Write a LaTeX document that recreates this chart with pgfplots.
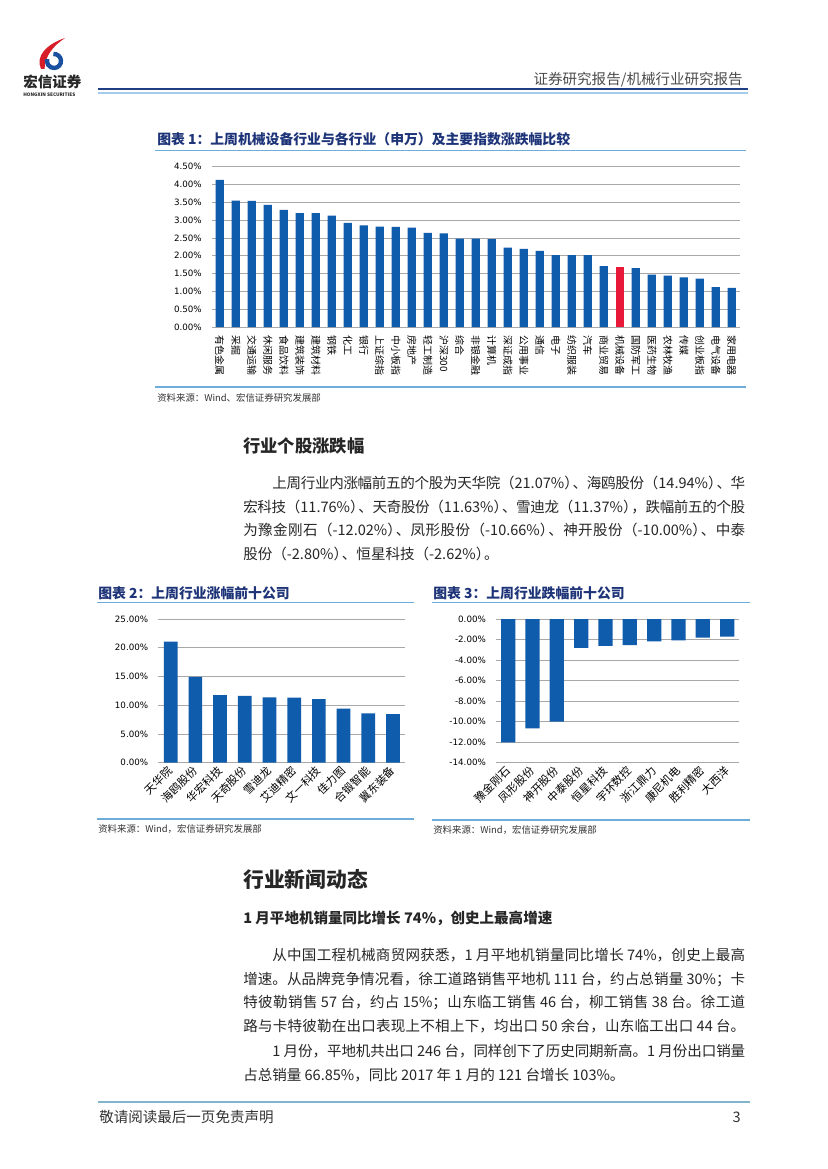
\documentclass[border=0pt]{standalone}
\usepackage{fontspec}
\setmainfont{Noto Sans CJK SC}
\newfontfamily\dv{DejaVu Sans}
\usepackage{pgfplots}
\pgfplotsset{compat=1.18}
\definecolor{barblue}{RGB}{16,92,172}
\definecolor{barred}{RGB}{232,24,56}
\definecolor{gridgray}{RGB}{168,168,168}
\definecolor{titlenavy}{RGB}{30,52,120}
\definecolor{tline}{RGB}{110,172,218}
\definecolor{headnavy}{RGB}{32,62,132}
\definecolor{headlight}{RGB}{165,205,235}
\definecolor{footline}{RGB}{130,180,205}
\definecolor{logored}{RGB}{215,30,40}
\definecolor{logoblue}{RGB}{25,80,160}
\newcommand\fs[1]{\fontsize{#1}{#1}\selectfont}
\newcommand\jl[1]{\parbox[b]{127.5mm}{\XeTeXlinebreaklocale "zh"\XeTeXlinebreakskip=0pt plus 3pt minus 1pt\XeTeXlinebreakpenalty=10000\parfillskip=0pt\relax\noindent #1}}
\newcommand\cp{\kern-0.42em}
\pgfplotsset{
  myaxis/.style={
    scale only axis, enlargelimits=false, clip=false,
    axis line style={draw=none},
    major tick length=0pt,
    ymajorgrids, grid style={gridgray, line width=0.6pt},
    /pgf/number format/assume math mode=true,
    yticklabel style={font=\dv\fs{6.3}, anchor=east, inner sep=0pt, xshift=-2.5mm},
    yticklabel={\pgfmathprintnumber[fixed,fixed zerofill,precision=2]{\tick}\%},
  }
}
\begin{document}
\begin{tikzpicture}[x=0.254mm,y=0.254mm]
\fill[white] (0,0) rectangle (827,-1169);
\path[use as bounding box] (0,0) rectangle (827,-1169);
% ---------- header ----------
\fill[logored] (41,-69) .. controls (35,-56) and (47,-44) .. (65,-38) .. controls (53,-46) and (45,-56) .. (44.5,-69) -- cycle;
\draw[logoblue, line width=1.1mm] (54,-61) ++(95:7) arc[start angle=95, end angle=-195, radius=7];
\node[anchor=base west, inner sep=0pt, font=\bfseries\fs{10.5}, text=black!85] at (23,-88) {宏信证券};
\node[anchor=base west, inner sep=0pt, font=\bfseries\fs{3.4}, text=black!85] at (23,-97) {HONGXIN SECURITIES};
\node[anchor=base east, inner sep=0pt, font=\fs{10.5}, text=black!70] at (743,-85) {证券研究报告/机械行业研究报告};
\draw[headnavy, line width=0.55mm] (98,-89) -- (748,-89);
\draw[headlight, line width=0.35mm] (98,-93) -- (748,-93);
% ---------- chart 1 ----------
\node[anchor=base west, inner sep=0pt, font=\bfseries\fs{10}, text=titlenavy] at (157,-145) {图表 1：上周机械设备行业与各行业（申万）及主要指数涨跌幅比较};
\draw[tline, line width=0.35mm] (155,-150.5) -- (746,-150.5);
\begin{axis}[myaxis,
  at={(53.80mm,-83.06mm)}, anchor=south west,
  width=134.1mm, height=40.72mm,
  xmin=-0.5, xmax=32.5, ymin=0, ymax=4.5,
  ytick={0,0.5,...,4.5},
  xtick={0,...,32},
  xticklabels={有色金属,采掘,交通运输,休闲服务,食品饮料,建筑装饰,建筑材料,钢铁,化工,银行,上证综指,中小板指,房地产,轻工制造,沪深300,综合,非银金融,计算机,深证成指,公用事业,通信,电子,纺织服装,汽车,商业贸易,机械设备,国防军工,医药生物,农林牧渔,传媒,创业板指,电气设备,家用电器},
  xticklabel style={font=\fs{7.2}, rotate=-90, anchor=west, inner sep=0pt},
  xticklabel shift=2mm,
]
\addplot[ybar, bar shift=0pt, bar width=2.1mm, fill=barblue, draw=none] coordinates {
(0,4.13) (1,3.55) (2,3.54) (3,3.43) (4,3.29) (5,3.20) (6,3.20) (7,3.13) (8,2.92) (9,2.85)
(10,2.82) (11,2.81) (12,2.79) (13,2.64) (14,2.63) (15,2.48) (16,2.48) (17,2.47) (18,2.23) (19,2.19)
(20,2.14) (21,2.02) (22,2.02) (23,2.02) (24,1.71) (26,1.65) (27,1.47) (28,1.44) (29,1.39)
(30,1.36) (31,1.12) (32,1.10)};
\addplot[ybar, bar shift=0pt, bar width=2.1mm, fill=barred, draw=none] coordinates {(25,1.68)};
\end{axis}
\draw[tline, line width=0.35mm] (155,-387) -- (746,-387);
\node[anchor=base west, inner sep=0pt, font=\fs{6.8}, text=black!80] at (157,-401.5) {资料来源：Wind、宏信证券研究发展部};
% ---------- text 1 ----------
\node[anchor=base west, inner sep=0pt, font=\bfseries\fs{12.5}, text=black!85] at (243,-452.4) {行业个股涨跌幅};
\begin{scope}[every node/.style={anchor=base west, inner sep=0pt, font=\fs{10.5}, text=black!85}]
\node at (243,-488.4) {\jl{\hspace*{21pt}上周行业内涨幅前五的个股为天华院（21.07\%）\cp、海鸥股份（14.94\%）\cp、华}};
\node at (243,-512.4) {\jl{宏科技（11.76\%）\cp、天奇股份（11.63\%）\cp、雪迪龙（11.37\%）\cp，跌幅前五的个股}};
\node at (243,-535.4) {\jl{为豫金刚石（-12.02\%）\cp、凤形股份（-10.66\%）\cp、神开股份（-10.00\%）\cp、中泰}};
\node at (243,-559.4) {股份（-2.80\%）\cp、恒星科技（-2.62\%）\cp。};
\end{scope}
% ---------- chart 2 ----------
\node[anchor=base west, inner sep=0pt, font=\bfseries\fs{10}, text=titlenavy] at (98,-598) {图表 2：上周行业涨幅前十公司};
\draw[tline, line width=0.35mm] (97,-602.7) -- (414,-602.7);
\begin{axis}[myaxis,
  at={(40.21mm,-193.73mm)}, anchor=south west,
  width=62.74mm, height=36.5mm,
  xmin=-0.5, xmax=9.5, ymin=0, ymax=25,
  ytick={0,5,...,25},
  xtick={0,...,9},
  xticklabels={天华院,海鸥股份,华宏科技,天奇股份,雪迪龙,艾迪精密,文一科技,佳力图,合锻智能,冀东装备},
  xticklabel style={font=\fs{8}, rotate=45, anchor=east, inner sep=0pt},
  xticklabel shift=1.5mm,
]
\addplot[ybar, bar shift=0pt, bar width=3.48mm, fill=barblue, draw=none] coordinates {
(0,21.07) (1,14.94) (2,11.76) (3,11.63) (4,11.37) (5,11.33) (6,11.08) (7,9.40) (8,8.58) (9,8.47)};
\end{axis}
\draw[tline, line width=0.35mm] (97,-819) -- (414,-819);
\node[anchor=base west, inner sep=0pt, font=\fs{6.8}, text=black!80] at (98,-832.5) {资料来源：Wind，宏信证券研究发展部};
% ---------- chart 3 ----------
\node[anchor=base west, inner sep=0pt, font=\bfseries\fs{10}, text=titlenavy] at (433,-598) {图表 3：上周行业跌幅前十公司};
\draw[tline, line width=0.35mm] (432,-602.7) -- (750,-602.7);
\begin{axis}[myaxis,
  at={(125.98mm,-193.73mm)}, anchor=south west,
  width=61.8mm, height=36.5mm,
  xmin=-0.5, xmax=9.5, ymin=-14, ymax=0,
  ytick={-14,-12,...,0},
  xtick={0,...,9},
  xticklabels={豫金刚石,凤形股份,神开股份,中泰股份,恒星科技,宇环数控,浙江鼎力,康尼机电,胜利精密,大西洋},
  xticklabel style={font=\fs{8}, rotate=45, anchor=east, inner sep=0pt},
  xticklabel shift=1.5mm,
]
\addplot[ybar, bar shift=0pt, bar width=3.63mm, fill=barblue, draw=none] coordinates {
(0,-12.02) (1,-10.66) (2,-10.00) (3,-2.80) (4,-2.62) (5,-2.53) (6,-2.18) (7,-2.08) (8,-1.82) (9,-1.72)};
\end{axis}
\draw[tline, line width=0.35mm] (432,-820) -- (750,-820);
\node[anchor=base west, inner sep=0pt, font=\fs{6.8}, text=black!80] at (433,-833.5) {资料来源：Wind，宏信证券研究发展部};
% ---------- text 2 ----------
\node[anchor=base west, inner sep=0pt, font=\bfseries\fs{15}, text=black!85] at (243,-887.7) {行业新闻动态};
\node[anchor=base west, inner sep=0pt, font=\bfseries\fs{10.5}, text=black!85] at (243,-923.4) {1 月平地机销量同比增长 74\%，创史上最高增速};
\begin{scope}[every node/.style={anchor=base west, inner sep=0pt, font=\fs{10.5}, text=black!85}]
\node at (243,-960.4) {\jl{\hspace*{21pt}从中国工程机械商贸网获悉，1~月平地机销量同比增长~74\%，创史上最高}};
\node at (243,-984.4) {\jl{增速。从品牌竞争情况看，徐工道路销售平地机~111~台，约占总销量~30\%；卡}};
\node at (243,-1007.4) {\jl{特彼勒销售~57~台，约占~15\%；山东临工销售~46~台，柳工销售~38~台。徐工道}};
\node at (243,-1031.4) {\jl{路与卡特彼勒在出口表现上不相上下，均出口~50~余台，山东临工出口~44~台。}};
\node at (243,-1056.4) {\jl{\hspace*{21pt}1~月份，平地机共出口~246~台，同样创下了历史同期新高。1~月份出口销量}};
\node at (243,-1080.4) {占总销量 66.85\%，同比 2017 年 1 月的 121 台增长 103\%。};
\end{scope}
% ---------- footer ----------
\draw[footline, line width=0.35mm] (98,-1102) -- (750,-1102);
\node[anchor=base west, inner sep=0pt, font=\fs{10.5}, text=black!80] at (99,-1122) {敬请阅读最后一页免责声明};
\node[anchor=base east, inner sep=0pt, font=\fs{10.5}, text=black!80] at (741,-1122) {3};
\end{tikzpicture}
\end{document}
